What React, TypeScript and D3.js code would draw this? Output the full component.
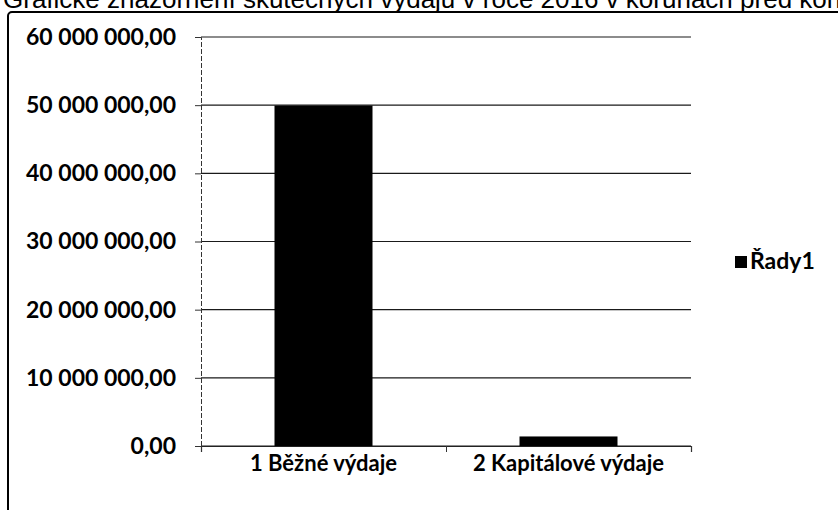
import * as d3 from 'd3';
import { useEffect, useRef } from 'react';

// chart data
const categories = ['1 Běžné výdaje', '2 Kapitálové výdaje'];
const values = [49950000, 1400000];
const yTicks = [0, 10000000, 20000000, 30000000, 40000000, 50000000, 60000000];
const seriesName = 'Řady1';
const title = 'Grafické znázornění skutečných výdajů v roce 2016 v korunách před konsolidací';

const width = 838;
const height = 510;

const plot = {
    left: 201,
    right: 691,
    top: 37,
    bottom: 446,
};

const labelFont = 'Lato, "Open Sans", sans-serif';

// czech number format: space for thousands, comma for decimals
const fmt = d3.formatLocale({ decimal: ',', thousands: '\u00a0', grouping: [3], currency: ['', ' Kč'] }).format(',.2f');

function App() {
    const gridRef = useRef(null);
    const yAxisRef = useRef(null);
    const xAxisRef = useRef(null);

    const xScale = d3.scaleBand().domain(categories).range([plot.left, plot.right]).paddingInner(0.6).paddingOuter(0.3);
    const yScale = d3.scaleLinear().domain([0, 60000000]).range([plot.bottom, plot.top]);

    useEffect(() => {
        // horizontal gridlines
        d3.select(gridRef.current)
            .selectAll('line')
            .data(yTicks)
            .join('line')
            .attr('x1', plot.left)
            .attr('x2', plot.right)
            .attr('y1', d => yScale(d))
            .attr('y2', d => yScale(d))
            .attr('stroke', '#1a1a1a')
            .attr('stroke-width', 1.2);

        const axisLeft = d3.axisLeft(yScale).tickValues(yTicks).tickSize(6).tickPadding(19).tickFormat(d => fmt(d));
        const yAxis = d3.select(yAxisRef.current).call(axisLeft);
        yAxis.select('.domain').attr('stroke', '#333').attr('stroke-dasharray', '5,2');
        yAxis.selectAll('.tick line').attr('stroke', '#333');
        yAxis.selectAll('.tick text')
            .attr('font-family', labelFont)
            .attr('font-weight', 700)
            .attr('font-size', 23)
            .attr('fill', '#000');

        // the x axis has ticks on the band edges, not on the centres
        const edges = d3.scaleLinear().domain([0, categories.length]).range([plot.left, plot.right]);
        const axisBottom = d3.axisBottom(edges).tickValues(d3.range(categories.length + 1)).tickSize(6).tickFormat(() => '');
        const xAxis = d3.select(xAxisRef.current).call(axisBottom);
        xAxis.select('.domain').attr('stroke', '#222').attr('stroke-width', 1.2);
        xAxis.selectAll('.tick line').attr('stroke', '#333');
    }, [xScale, yScale]);

    return (
        <svg width={width} height={height} style={{ position: 'absolute', left: 0, top: 0, background: '#fff' }}>
            {/* the title is cut at the top edge in the scan too */}
            <text x={3} y={8} fontFamily='"Liberation Sans", Arial, sans-serif' fontSize={26} fill='#000'>{title}</text>
            <rect x={8} y={12} width={900} height={600} rx={4} fill='none' stroke='#000' strokeWidth={2} />
            <g ref={gridRef} />
            <g ref={yAxisRef} transform={`translate(${plot.left},0)`} />
            <g ref={xAxisRef} transform={`translate(0,${plot.bottom})`} />
            {values.map((v, i) => (
                <rect key={categories[i]} x={xScale(categories[i])} y={yScale(v)} width={xScale.bandwidth()} height={plot.bottom - yScale(v)} fill='#000' />
            ))}
            {categories.map(c => (
                <text key={c} x={xScale(c) + xScale.bandwidth() / 2} y={471} textAnchor='middle' fontFamily={labelFont} fontWeight={700} fontSize={22} fill='#000'>{c}</text>
            ))}
            <rect x={735} y={256} width={12} height={12} fill='#000' />
            <text x={750} y={269} fontFamily={labelFont} fontWeight={700} fontSize={23} fill='#000'>{seriesName}</text>
        </svg>
    );
}

export default App;
